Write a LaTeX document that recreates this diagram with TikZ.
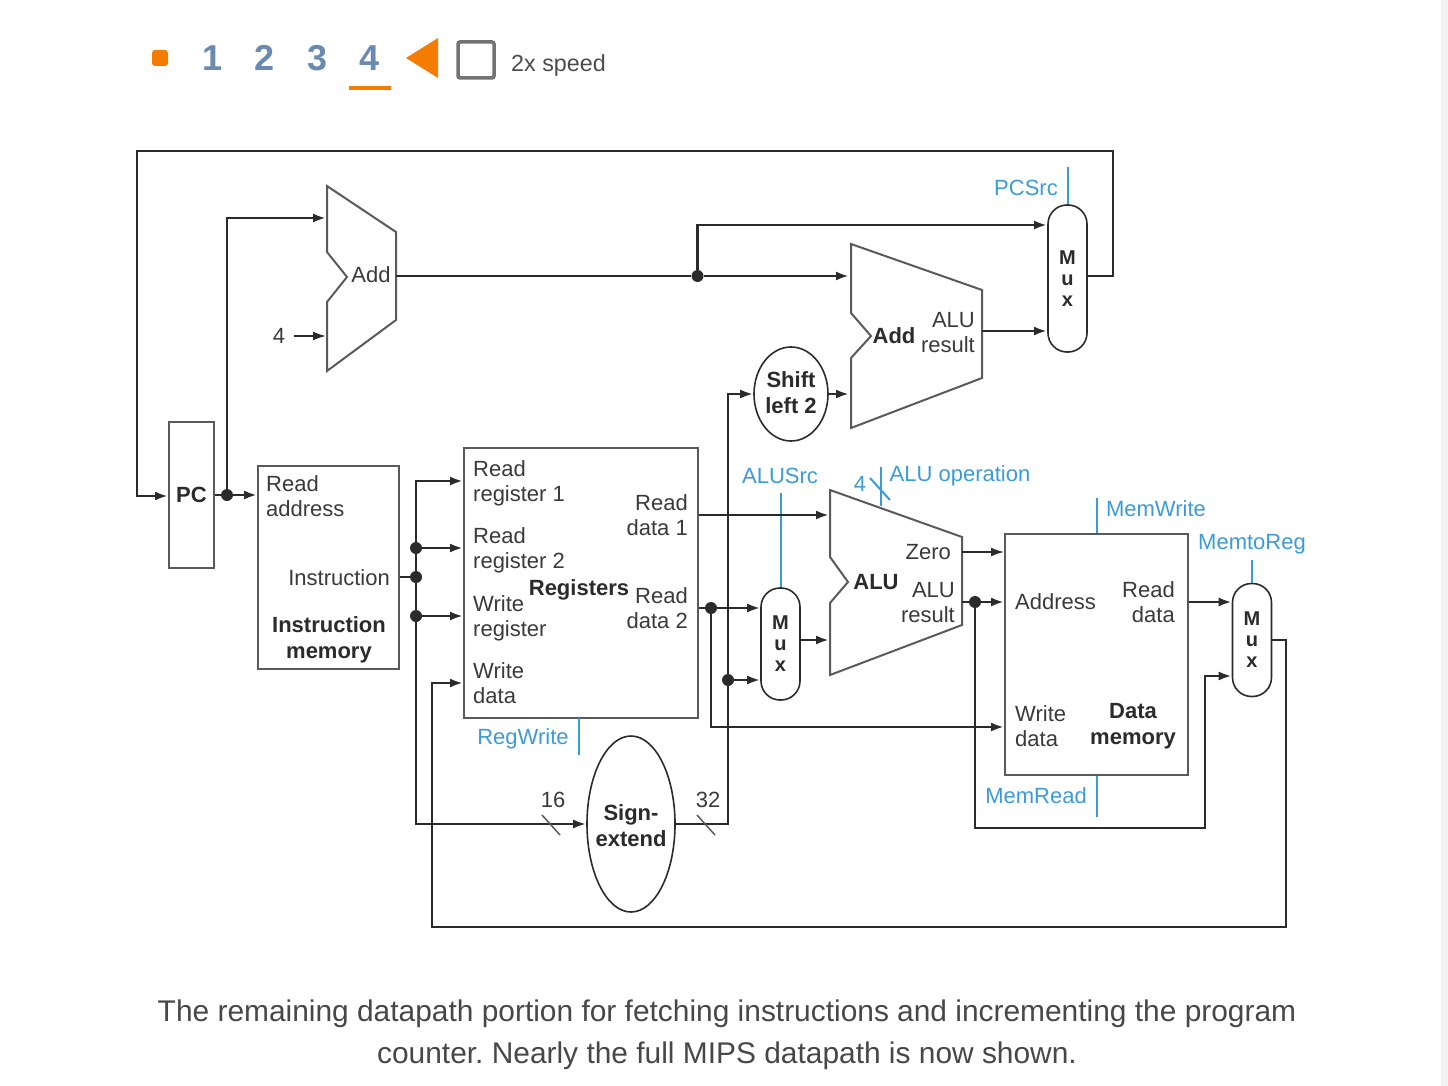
\documentclass[tikz,border=0pt]{standalone}
\usepackage{fontspec}
\setmainfont{Liberation Sans}
\usetikzlibrary{arrows.meta,shapes.geometric}
\definecolor{wirecol}{HTML}{2B2B2B}
\definecolor{boxcol}{HTML}{5A5A5A}
\definecolor{txtcol}{HTML}{3A3A3A}
\definecolor{ctrlcol}{HTML}{3B9BD9}
\definecolor{navcol}{HTML}{6A8AB0}
\definecolor{orangecol}{HTML}{F57C00}
\frenchspacing
\tikzset{
    >={Latex[length=13pt,width=9pt]},
    wire/.style={draw=wirecol, line width=2.5pt},
    thinwire/.style={draw=wirecol, line width=1.6pt},
    tick/.style={draw=boxcol, line width=1.5pt},
    ctrl/.style={draw=ctrlcol, line width=2pt},
    unit/.style={draw=boxcol, line width=2pt, fill=white, inner sep=0pt},
    gate/.style={draw=boxcol, line width=2pt, fill=white, line join=miter},
    muxbox/.style={unit, draw=wirecol, line width=1.6pt, rounded corners=19pt, minimum width=39pt, align=center,
        font=\fontsize{20}{21}\bfseries\selectfont, text=wirecol},
    oval/.style={ellipse, draw=wirecol, line width=1.6pt, fill=white, inner sep=0pt},
    lbl/.style={font=\fontsize{22}{25}\selectfont, text=txtcol, inner sep=0pt},
    bold/.style={lbl, font=\fontsize{22}{26}\bfseries\selectfont, text=wirecol, align=center},
    ctrllbl/.style={lbl, text=ctrlcol},
    dot/.style={circle, fill=wirecol, inner sep=0pt, minimum size=12pt},
    navnum/.style={font=\fontsize{36}{36}\bfseries\selectfont, text=navcol, inner sep=0pt}
}
\begin{document}
\begin{tikzpicture}[x=1pt, y=-1pt]
    \useasboundingbox (0, 0) rectangle (1448, 1086);
    \fill[black!5] (1441, 0) rectangle (1448, 1086);

    % Player controls
    \fill[orangecol, rounded corners=3pt] (152, 50) rectangle (168, 66);
    \node[navnum] (numone) at (213, 58) {1};
    \node[navnum] (numtwo) at (265, 58) {2};
    \node[navnum] (numthree) at (318, 58) {3};
    \node[navnum] (numfour) at (370, 58) {4};
    \fill[orangecol] (349, 86) rectangle (391, 90);
    \fill[orangecol] (438, 38) -- (406, 58) -- (438, 78) -- cycle;
    \draw[black!55, line width=3.5pt, rounded corners=2pt] (458, 42) rectangle (494, 78);
    \node[lbl, anchor=west, font=\fontsize{23.3}{28}\selectfont, text=black!70] (speed) at (511, 65.5) {2x speed};

    % Units
    \node[unit, minimum width=45pt, minimum height=146pt, font=\fontsize{22}{26}\bfseries\selectfont, text=wirecol] (pc) at (191.5, 495) {PC};
    \node[unit, minimum width=141pt, minimum height=203pt] (imem) at (328.5, 567.5) {};
    \node[unit, minimum width=234pt, minimum height=270pt] (regs) at (581, 583) {};
    \node[unit, minimum width=183pt, minimum height=241pt] (dmem) at (1096.5, 654.5) {};
    \node[oval, minimum width=74pt, minimum height=94pt] (shift) at (791, 394) {};
    \node[bold] (shiftname) at (791, 392.5) {Shift\\left 2};
    \node[oval, minimum width=88pt, minimum height=176pt] (signext) at (631, 824) {};
    \node[bold] (signname) at (631, 826) {Sign-\\extend};
    \node[muxbox, minimum height=147pt] (muxpc) at (1067.5, 278.5) {M\\u\\x};
    \node[muxbox, minimum height=112pt] (muxalu) at (780.5, 644) {M\\u\\x};
    \node[muxbox, minimum height=113pt] (muxmem) at (1252, 640) {M\\u\\x};

    % First adder
    \draw[gate] (327, 186) -- (396, 232) -- (396, 320) -- (327, 371) -- (327, 302) -- (347, 277) -- (327, 252) -- cycle;
    \node[lbl] (addone) at (371, 275) {Add};
    \node[lbl] (four) at (279, 336) {4};

    % Second adder
    \draw[gate] (851, 244) -- (982, 290) -- (982, 378) -- (851, 428) -- (851, 358) -- (871, 336) -- (851, 313) -- cycle;
    \node[bold] (addtwo) at (894, 336) {Add};
    \node[lbl, anchor=east, align=right] (addres) at (975, 332.5) {ALU\\result};

    % ALU
    \draw[gate] (830, 490) -- (962, 537) -- (962, 625) -- (830, 675) -- (830, 603) -- (848, 582) -- (830, 557) -- cycle;
    \node[bold] (alu) at (876, 582) {ALU};
    \node[lbl, anchor=east] (zero) at (951, 552) {Zero};
    \node[lbl, anchor=east, align=right] (alures) at (955, 603) {ALU\\result};

    % Text inside the units
    \node[lbl, anchor=west, align=left] (rdaddr) at (266, 496) {Read\\address};
    \node[lbl, anchor=east] (instr) at (390, 578) {Instruction};
    \node[bold] (imemname) at (329, 640) {Instruction\\memory};
    \node[lbl, anchor=west, align=left] (rreg1) at (473, 483) {Read\\register 1};
    \node[lbl, anchor=west, align=left] (rreg2) at (473, 550) {Read\\register 2};
    \node[lbl, anchor=west, align=left] (wreg) at (473, 618) {Write\\register};
    \node[lbl, anchor=west, align=left] (wdata) at (473, 683) {Write\\data};
    \node[bold] (regsname) at (579, 590) {Registers};
    \node[lbl, anchor=east, align=right] (rdata1) at (688, 515) {Read\\data 1};
    \node[lbl, anchor=east, align=right] (rdata2) at (688, 608) {Read\\data 2};
    \node[lbl, anchor=west] (addr) at (1015, 602) {Address};
    \node[lbl, anchor=east, align=right] (rdata) at (1175, 602) {Read\\data};
    \node[lbl, anchor=west, align=left] (wdatamem) at (1015, 726) {Write\\data};
    \node[bold] (dmemname) at (1133, 726.5) {Data\\memory};

    % Control signals
    \node[ctrllbl] (pcsrc) at (1026, 188) {PCSrc};
    \draw[ctrl] (muxpc.north |- 0, 167) -- (muxpc.north);
    \node[ctrllbl] (alusrc) at (780, 476) {ALUSrc};
    \draw[ctrl] (muxalu.north |- 0, 493) -- (muxalu.north);
    \node[ctrllbl] (regwrite) at (523, 739) {RegWrite};
    \draw[ctrl] (579, 718) -- (579, 755);
    \node[ctrllbl] (aluop) at (960, 476) {ALU operation};
    \node[ctrllbl] (aluopfour) at (860, 484) {4};
    \draw[ctrl] (881, 467) -- (881, 506);
    \draw[ctrl] (870, 478) -- (890, 500);
    \node[ctrllbl] (memwrite) at (1156, 509) {MemWrite};
    \draw[ctrl] (dmem.north |- 0, 498) -- (dmem.north);
    \node[ctrllbl] (memread) at (1036, 796) {MemRead};
    \draw[ctrl] (dmem.south) -- (dmem.south |- 0, 817);
    \node[ctrllbl] (memtoreg) at (1252, 544) {MemtoReg};
    \draw[ctrl] (muxmem.north |- 0, 560) -- (muxmem.north);

    % Junctions
    \node[dot] (pcj) at (227, 495) {};
    \node[dot] (pcaddj) at (697.5, 276) {};
    \node[dot] (instrj) at (416, 577) {};
    \node[dot] (rreg2j) at (416, 548) {};
    \node[dot] (wregj) at (416, 616) {};
    \node[dot] (rd2j) at (711, 608) {};
    \node[dot] (immj) at (728, 680) {};
    \node[dot] (aluj) at (975, 602) {};

    % Free ends of the wires
    \coordinate (addonein) at (326, 218);
    \coordinate (addoneout) at (396, 276);
    \coordinate (fourin) at (326, 336);
    \coordinate (fourstart) at (294, 336);
    \coordinate (addtwoin) at (849, 276);
    \coordinate (addtwoout) at (982, 331);
    \coordinate (addtwoshift) at (849, 394);
    \coordinate (muxpcin) at (1047, 225);
    \coordinate (muxpcintwo) at (1047, 331);
    \coordinate (muxpcout) at (1087, 276);
    \coordinate (aluone) at (829, 515);
    \coordinate (alutwo) at (829, 640);
    \coordinate (zeroout) at (962, 552);
    \coordinate (aluout) at (962, 602);

    % Wires around the program counter
    \draw[wire, ->] (muxpcout) -- (1113, 276) -- (1113, 151) -- (137, 151) -- (137, 496) -- (pc.west |- 0, 496);
    \draw[wire] (pc) -- (pcj);
    \draw[wire, ->] (pcj) -- (imem.west |- pcj);
    \draw[wire, ->] (pcj) |- (addonein);
    \draw[thinwire, ->] (fourstart) -- (fourin);

    % Branch target
    \draw[wire] (addoneout) -- (pcaddj);
    \draw[wire, ->] (pcaddj) -- (addtwoin);
    \draw[wire, ->] (pcaddj) |- (muxpcin);
    \draw[wire, ->] (addtwoout) -- (muxpcintwo);
    \draw[wire, ->] (shift) -- (addtwoshift);

    % Instruction fields
    \draw[wire] (imem.east |- instrj) -- (instrj);
    \draw[wire, ->] (instrj) |- (regs.west |- 0, 481);
    \draw[wire, ->] (rreg2j) -- (regs.west |- rreg2j);
    \draw[wire, ->] (wregj) -- (regs.west |- wregj);
    \draw[wire, ->] (instrj) |- (signext.west);
    \draw[tick] (542, 815) -- (560, 835);
    \node[lbl] (sixteen) at (553, 800) {16};

    % Sign extend output
    \draw[wire, ->] (signext.east) -| (728, 394) -- (shift.west);
    \draw[wire, ->] (immj) -- (muxalu.west |- immj);
    \draw[tick] (697, 815) -- (715, 835);
    \node[lbl] (thirtytwo) at (708, 800) {32};

    % Register outputs
    \draw[wire, ->] (regs.east |- aluone) -- (aluone);
    \draw[wire] (regs.east |- rd2j) -- (rd2j);
    \draw[wire, ->] (rd2j) -- (muxalu.west |- rd2j);
    \draw[wire, ->] (rd2j) |- (dmem.west |- 0, 727);
    \draw[wire, ->] (muxalu.east |- alutwo) -- (alutwo);

    % ALU outputs
    \draw[thinwire, ->] (zeroout) -- (dmem.west |- zeroout);
    \draw[wire] (aluout) -- (aluj);
    \draw[wire, ->] (aluj) -- (dmem.west |- aluj);
    \draw[wire, ->] (aluj) |- (1205, 828) |- (muxmem.west |- 0, 676);
    \draw[wire, ->] (dmem.east |- aluj) -- (muxmem.west |- aluj);

    % Write back
    \draw[wire, ->] (muxmem.east) -- (1286, 640) -- (1286, 927) -- (432, 927) |- (regs.west |- 0, 683);

    % Caption
    \node[lbl, align=center, font=\fontsize{29.9}{42}\selectfont, text=black!72] (caption) at (727, 1035)
        {The remaining datapath portion for fetching instructions and incrementing the program\\counter. Nearly the full MIPS datapath is now shown.};
\end{tikzpicture}
\end{document}
